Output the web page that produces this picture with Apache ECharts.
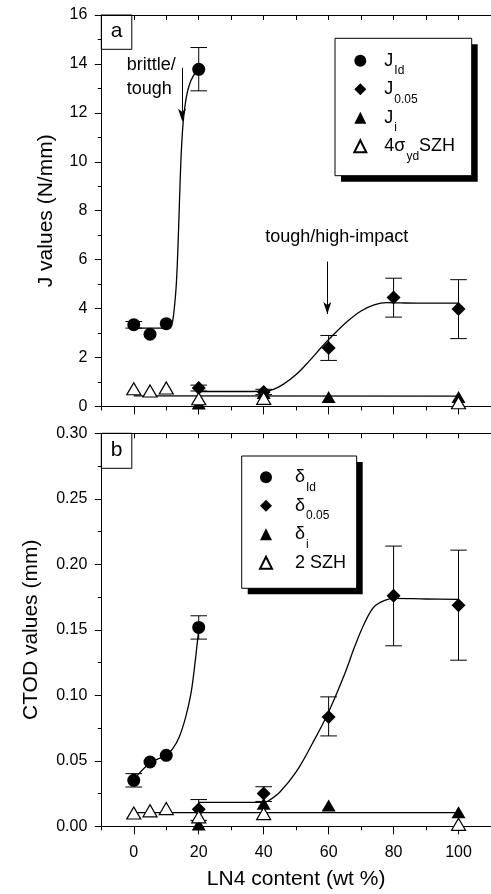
<!DOCTYPE html>
<html>
<head>
<meta charset="utf-8">
<title>J and CTOD values vs LN4 content</title>
<script src="https://cdn.jsdelivr.net/npm/echarts@6/dist/echarts.min.js"></script>
<style>
  html, body { margin: 0; padding: 0; background: #fff; }
  #chart { width: 491px; height: 894px; }
</style>
</head>
<body>
<div id="chart"></div>
<script>
const FONT = '"Liberation Sans", Arial, Helvetica, sans-serif';

// x axis (LN4 content, wt %)
const xMajorTicks = [0, 20, 40, 60, 80, 100];
const xMinorTicks = [-10, 10, 30, 50, 70, 90, 110];
const xTopTicks = [0, 10, 20, 30, 40, 50, 60, 70, 80, 90, 100];

// (a) J values (N/mm)
const jIdX = [0, 5, 10, 20];
const jId = [3.34, 2.95, 3.38, 13.78];
const jIdErr = [[0, 3.2, 3.47], [20, 12.9, 14.67]];
const j005X = [20, 40, 60, 80, 100];
const j005 = [0.75, 0.59, 2.39, 4.45, 3.98];
const j005Err = [[20, 0.63, 0.87], [40, 0.48, 0.7], [60, 1.88, 2.9], [80, 3.65, 5.24], [100, 2.77, 5.18]];
const jiX = [20, 40, 60, 100];
const ji = [0.12, 0.55, 0.38, 0.38];
const szhAX = [0, 5, 10, 20, 40, 100];
const szhA = [0.72, 0.63, 0.75, 0.31, 0.33, 0.15];
// fitted curves
const fitJId = [[0, 3.2], [5, 3.2], [10, 3.2], [11.3, 3.3], [12, 3.5], [13, 4.8], [13.6, 6.5], [14.1, 8.5],
  [14.6, 10.3], [15.2, 11.6], [16, 12.5], [17, 13.1], [18.5, 13.55], [20, 13.78]];
const fitJ005 = [[20, 0.61], [30, 0.61], [40, 0.62], [43, 0.7], [46, 0.9], [50, 1.3], [54, 1.85], [58, 2.45],
  [62, 3.0], [66, 3.5], [70, 3.9], [74, 4.15], [78, 4.24], [82, 4.23], [90, 4.22], [100, 4.22]];
const fitJi = [[0, 0.43], [100, 0.42]];

// (b) CTOD values (mm)
const dIdX = [0, 5, 10, 20];
const dId = [0.0351, 0.0491, 0.0542, 0.1518];
const dIdErr = [[0, 0.030, 0.0402], [20, 0.1429, 0.1607]];
const d005X = [20, 40, 60, 80, 100];
const d005 = [0.013, 0.025, 0.0835, 0.176, 0.1688];
const d005Err = [[20, 0.0045, 0.0204], [40, 0.019, 0.0302], [60, 0.069, 0.0988], [80, 0.1378, 0.2139], [100, 0.1268, 0.2108]];
const diX = [20, 40, 60, 100];
const di = [0.0013, 0.0173, 0.0158, 0.0107];
const szhBX = [0, 5, 10, 20, 40, 100];
const szhB = [0.0102, 0.0118, 0.0135, 0.0072, 0.0097, 0.0015];
const fitDId = [[0, 0.0357], [5, 0.0484], [10, 0.0542], [12, 0.0593], [14, 0.0682], [16, 0.0835],
  [17.6, 0.1013], [18.6, 0.1192], [19.3, 0.1344], [20, 0.1497]];
const fitD005 = [[20, 0.0182], [30, 0.0182], [40, 0.0182], [41.5, 0.0195], [45, 0.0262], [50, 0.0415],
  [55, 0.0632], [60, 0.0873], [65, 0.1166], [68, 0.137], [71, 0.1548], [74, 0.1676], [77.5, 0.1727],
  [80, 0.174], [90, 0.1735], [100, 0.1732]];
const fitDi = [[0, 0.0105], [100, 0.0105]];

const pairs = (xs, ys) => xs.map((x, i) => [x, ys[i]]);

const legendText = {
  'J_Id': '{m|J}{s|Id}',
  'J_0.05': '{m|J}{s|0.05}',
  'J_i': '{m|J}{s|i}',
  '4σydSZH': '{m|4σ}{s|yd}{m|SZH}',
  'δ_Id': '{m|δ}{s|Id}',
  'δ_0.05': '{m|δ}{s|0.05}',
  'δ_i': '{m|δ}{s|i}',
  '2 SZH': '{m|2 SZH}{s| }'
};

const chart = echarts.init(document.getElementById('chart'));

const black = '#000';
const gridA = { left: 101.3, top: 15, width: 393, height: 391.4 };
const gridB = { left: 101.3, top: 433.3, width: 393, height: 393 };

// error bars: [x, low, high]
const errRender = (params, api) => {
  const x = api.value(0);
  const lo = api.coord([x, api.value(1)]);
  const hi = api.coord([x, api.value(2)]);
  const w = 8.3;
  const style = { stroke: black, lineWidth: 1 };
  return {
    type: 'group',
    children: [
      { type: 'line', shape: { x1: lo[0], y1: lo[1], x2: hi[0], y2: hi[1] }, style },
      { type: 'line', shape: { x1: lo[0] - w, y1: lo[1], x2: lo[0] + w, y2: lo[1] }, style },
      { type: 'line', shape: { x1: hi[0] - w, y1: hi[1], x2: hi[0] + w, y2: hi[1] }, style }
    ]
  };
};

const xBase = (gridIndex, extra) => Object.assign({
  type: 'value', gridIndex, min: -10, max: 110,
  axisLine: { show: true, onZero: false, lineStyle: { color: black, width: 1 } },
  splitLine: { show: false },
  axisLabel: { show: false }
}, extra);

const makeXAxes = (gridIndex, withLabels) => [
  xBase(gridIndex, {
    position: 'bottom',
    axisTick: { show: true, length: 8, customValues: xMajorTicks, lineStyle: { color: black } },
    axisLabel: withLabels
      ? { show: true, customValues: xMajorTicks, fontSize: 16, fontFamily: FONT, color: black, margin: 18 }
      : { show: false },
    name: withLabels ? 'LN4 content (wt %)' : '',
    nameLocation: 'middle',
    nameGap: 42,
    nameTextStyle: { fontSize: 21, fontFamily: FONT, color: black }
  }),
  xBase(gridIndex, {
    position: 'bottom',
    axisLine: { show: false },
    axisTick: { show: true, length: 4, customValues: xMinorTicks, lineStyle: { color: black } }
  }),
  xBase(gridIndex, {
    position: 'top',
    axisTick: { show: true, inside: true, length: 5, customValues: xTopTicks, lineStyle: { color: black } }
  })
];

const yBase = (gridIndex, max, interval, fmt) => ({
  type: 'value', gridIndex, min: 0, max, interval,
  position: 'left',
  axisLine: { show: true, onZero: false, lineStyle: { color: black, width: 1 } },
  axisTick: { show: true, length: 6.5, lineStyle: { color: black } },
  minorTick: { show: true, splitNumber: 2, length: 3.5, lineStyle: { color: black } },
  splitLine: { show: false },
  minorSplitLine: { show: false },
  axisLabel: { fontSize: 16, fontFamily: FONT, color: black, margin: 14, formatter: fmt }
});

const fitLine = (name, data, xi, yi, extra) => Object.assign({
  name, type: 'line', data, xAxisIndex: xi, yAxisIndex: yi,
  showSymbol: false, smooth: 0.35, silent: true, z: 1,
  lineStyle: { color: black, width: 1.3 }
}, extra);

const errSeries = (name, data, xi, yi) => ({
  name, type: 'custom', data, xAxisIndex: xi, yAxisIndex: yi,
  encode: { x: 0, y: [1, 2] }, renderItem: errRender, silent: true, z: 2
});

const marks = (name, data, xi, yi, symbol, size, open) => ({
  name, type: 'scatter', data, xAxisIndex: xi, yAxisIndex: yi,
  symbol, symbolSize: size, z: open ? 4 : 3,
  itemStyle: open
    ? { color: '#fff', borderColor: black, borderWidth: 1.2, opacity: 1 }
    : { color: black, opacity: 1 }
});

// legend: symbol left / first row top; box is drawn separately below
const legendBase = (data, left, top, textPadLeft) => ({
  data, orient: 'vertical', left, top, padding: 0, z: 10,
  itemWidth: 12, itemHeight: 12, itemGap: -3.5,
  selectedMode: false,
  formatter: n => legendText[n],
  textStyle: {
    padding: [0, 0, 0, textPadLeft],
    rich: {
      m: { fontSize: 18, fontFamily: FONT, color: black, lineHeight: 20 },
      s: { fontSize: 12, fontFamily: FONT, color: black, lineHeight: 14, padding: [20, 0, 0, 1] }
    }
  }
});

const legendBox = (x, y, w, h) => ({
  type: 'group', z: 9,
  children: [
    { type: 'rect', z: 9, shape: { x: x + 6, y: y + 6, width: w, height: h }, style: { fill: black } },
    { type: 'rect', z: 9, shape: { x, y, width: w, height: h },
      style: { fill: '#fff', stroke: black, lineWidth: 1 } }
  ]
});

const panelBox = (y, h, letter) => ({
  type: 'group', z: 50,
  children: [
    { type: 'rect', shape: { x: 101.3, y, width: 30.5, height: h },
      style: { fill: '#fff', stroke: black, lineWidth: 1 } },
    { type: 'text', x: 116.5, y: y + h / 2 - 1,
      style: { text: letter, font: '21px ' + FONT, fill: black, align: 'center', verticalAlign: 'middle' } }
  ]
});

const yTitle = (text, x, y) => ({
  type: 'text', x, y, rotation: Math.PI / 2, z: 50,
  style: { text, font: '21px ' + FONT, fill: black, align: 'center', verticalAlign: 'middle' }
});

const option = {
  animation: false,
  backgroundColor: '#fff',
  grid: [gridA, gridB],
  xAxis: makeXAxes(0, false).concat(makeXAxes(1, true)),
  yAxis: [
    yBase(0, 16, 2, v => String(v)),
    yBase(1, 0.3, 0.05, v => v.toFixed(2))
  ],
  legend: [
    legendBase(['J_Id', 'J_0.05', 'J_i', '4σydSZH'], 353.3, 44.7, 13),
    legendBase(['δ_Id', 'δ_0.05', 'δ_i', '2 SZH'], 259, 461.3, 18)
  ],
  graphic: [
    legendBox(335, 38.3, 136.7, 137.4),
    legendBox(241.7, 456, 115, 132.3),
    panelBox(15, 34.3, 'a'),
    panelBox(433.3, 35, 'b'),
    yTitle('J values (N/mm)', 45.8, 210.8),
    yTitle('CTOD values (mm)', 31.7, 629.8),
    { type: 'text', x: 126.7, y: 65.4, z: 50,
      style: { text: 'brittle/', font: '18px ' + FONT, fill: black, verticalAlign: 'middle' } },
    { type: 'text', x: 126.7, y: 88.6, z: 50,
      style: { text: 'tough', font: '18px ' + FONT, fill: black, verticalAlign: 'middle' } },
    { type: 'text', x: 336.7, y: 237, z: 50,
      style: { text: 'tough/high-impact', font: '18px ' + FONT, fill: black, align: 'center', verticalAlign: 'middle' } }
  ],
  series: [
    // panel a
    fitLine('fitJId', fitJId, 0, 0, {
      markLine: {
        silent: true, symbol: ['none', 'arrow'], symbolSize: [6, 12],
        label: { show: false },
        lineStyle: { color: black, width: 1, type: 'solid' },
        data: [
          [{ coord: [14.86, 13.84] }, { coord: [14.86, 11.68] }],
          [{ coord: [59.6, 5.92] }, { coord: [59.6, 3.78] }]
        ]
      }
    }),
    fitLine('fitJ005', fitJ005, 0, 0),
    fitLine('fitJi', fitJi, 0, 0, { smooth: false }),
    errSeries('errJId', jIdErr, 0, 0),
    errSeries('errJ005', j005Err, 0, 0),
    marks('J_Id', pairs(jIdX, jId), 0, 0, 'circle', 13),
    marks('J_0.05', pairs(j005X, j005), 0, 0, 'diamond', [14, 14]),
    marks('J_i', pairs(jiX, ji), 0, 0, 'triangle', [14, 12]),
    marks('4σydSZH', pairs(szhAX, szhA), 0, 0, 'triangle', [14, 12], true),
    // panel b
    fitLine('fitDId', fitDId, 3, 1),
    fitLine('fitD005', fitD005, 3, 1),
    fitLine('fitDi', fitDi, 3, 1, { smooth: false }),
    errSeries('errDId', dIdErr, 3, 1),
    errSeries('errD005', d005Err, 3, 1),
    marks('δ_Id', pairs(dIdX, dId), 3, 1, 'circle', 13),
    marks('δ_0.05', pairs(d005X, d005), 3, 1, 'diamond', [14, 14]),
    marks('δ_i', pairs(diX, di), 3, 1, 'triangle', [14, 12]),
    marks('2 SZH', pairs(szhBX, szhB), 3, 1, 'triangle', [14, 12], true)
  ]
};

chart.setOption(option);
</script>
</body>
</html>
